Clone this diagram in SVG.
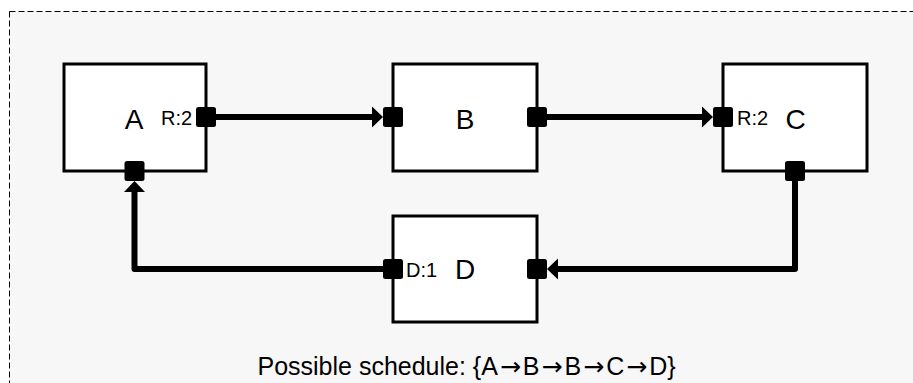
<svg xmlns="http://www.w3.org/2000/svg" width="913" height="383" viewBox="0 0 913 383">
<style>
.box{fill:#fff;stroke:#000;stroke-width:3}
.port{fill:#000}
.conn{fill:none;stroke:#000;stroke-width:6;stroke-linejoin:round}
.head{fill:#000}
.lbl{font-family:"Liberation Sans",Arial,sans-serif;font-size:28px;text-anchor:middle;fill:#000}
.small{font-family:"Liberation Sans",Arial,sans-serif;font-size:20px;fill:#000}
.cap{font-family:"Liberation Sans",Arial,sans-serif;font-size:25px;text-anchor:middle;fill:#000}
.ar{font-family:"DejaVu Sans",sans-serif;font-size:25px}
</style>
<rect x="0" y="0" width="913" height="383" fill="#fff"/>
<rect x="9.5" y="11.5" width="960" height="420" fill="#f7f7f7" stroke="#000" stroke-width="1" stroke-dasharray="6 3"/>
<g id="connectors">
<path class="conn" d="M216 117 H374"/>
<polygon class="head" points="383,117 372,106.5 372,127.5"/>
<path class="conn" d="M547 117 H704"/>
<polygon class="head" points="713,117 702,106.5 702,127.5"/>
<path class="conn" d="M795 181 V269 H556"/>
<polygon class="head" points="547,269 558,258.5 558,279.5"/>
<path class="conn" d="M383 269 H134.5 V190"/>
<polygon class="head" points="134.5,181 124,192 145,192"/>
</g>
<g id="nodeA">
<rect class="box" x="64" y="64" width="142" height="107"/>
<text class="lbl" x="134" y="128.5">A</text>
<text class="small" x="161" y="125">R:2</text>
<rect class="port" x="196" y="107" width="20" height="20" rx="2.5"/>
<rect class="port" x="124.5" y="161" width="20" height="20" rx="2.5"/>
</g>
<g id="nodeB">
<rect class="box" x="393" y="64" width="144" height="107"/>
<text class="lbl" x="465" y="129">B</text>
<rect class="port" x="383" y="107" width="20" height="20" rx="2.5"/>
<rect class="port" x="527" y="107" width="20" height="20" rx="2.5"/>
</g>
<g id="nodeC">
<rect class="box" x="723" y="64" width="144" height="107"/>
<text class="lbl" x="795.5" y="129">C</text>
<text class="small" x="737" y="125">R:2</text>
<rect class="port" x="713" y="107" width="20" height="20" rx="2.5"/>
<rect class="port" x="785" y="161" width="20" height="20" rx="2.5"/>
</g>
<g id="nodeD">
<rect class="box" x="393" y="216" width="144" height="106"/>
<text class="lbl" x="465" y="279">D</text>
<text class="small" x="406" y="277">D:1</text>
<rect class="port" x="383" y="259" width="20" height="20" rx="2.5"/>
<rect class="port" x="527" y="259" width="20" height="20" rx="2.5"/>
</g>
<text class="cap" x="466.5" y="375">Possible schedule: {A<tspan class="ar" dx="2">→</tspan><tspan dx="2">B</tspan><tspan class="ar" dx="2">→</tspan><tspan dx="2">B</tspan><tspan class="ar" dx="2">→</tspan><tspan dx="2">C</tspan><tspan class="ar" dx="2">→</tspan><tspan dx="2">D}</tspan></text>
</svg>
